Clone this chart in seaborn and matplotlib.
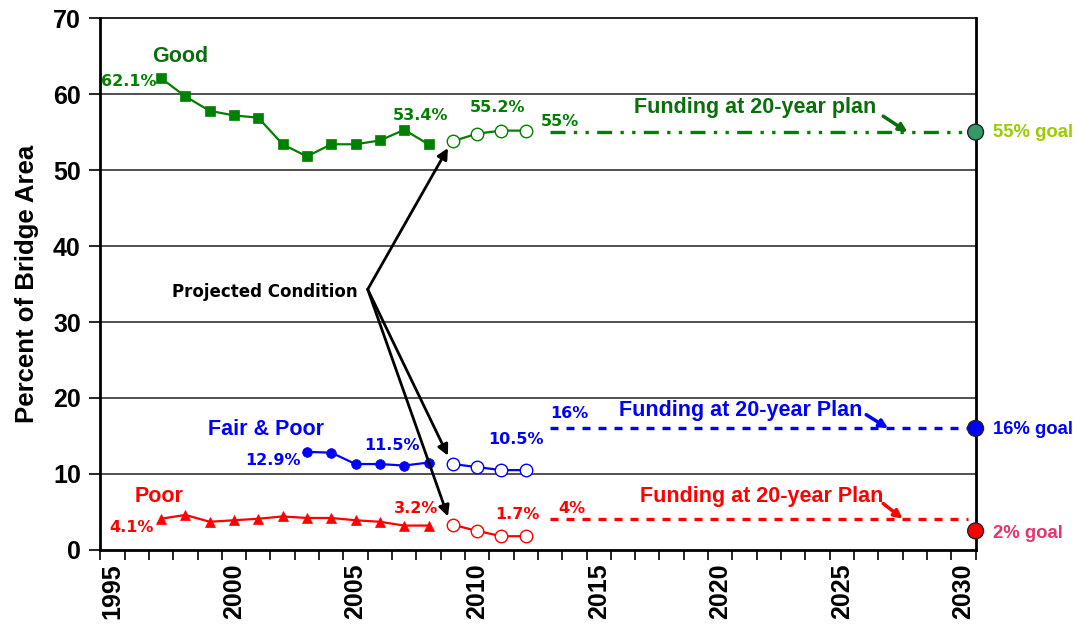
import numpy as np
import pandas as pd
import matplotlib
matplotlib.use("Agg")
import matplotlib.pyplot as plt
import seaborn as sns

# === Data ===
good_years = list(range(1997, 2009))
good_pct = [62.1, 59.7, 57.8, 57.2, 56.9, 53.4, 51.8, 53.4, 53.4, 53.9, 55.3, 53.4]
fair_years = list(range(2003, 2009))
fair_pct = [12.9, 12.8, 11.3, 11.3, 11.1, 11.5]
poor_years = list(range(1997, 2009))
poor_pct = [4.1, 4.6, 3.7, 3.9, 4.1, 4.4, 4.2, 4.2, 3.9, 3.7, 3.2, 3.2]

proj_years = [2009, 2010, 2011, 2012]
good_proj = [53.8, 54.8, 55.2, 55.2]
fair_proj = [11.3, 10.9, 10.5, 10.5]
poor_proj = [3.3, 2.5, 1.8, 1.8]

plan_years = [2013, 2030.2]
good_plan = [55, 55]
fair_plan = [16, 16]
poor_plan = [4, 4]

goal_year = 2030.5
goal_vals = [55, 16, 2.5]
goal_labels = ["55% goal", "16% goal", "2% goal"]

tick_years = [1995, 2000, 2005, 2010, 2015, 2020, 2025, 2030]

GREEN = "#008000"
DKGREEN = "#0a6e0a"
BLUE = "#0000ff"
RED = "#ff0000"

sns.set_style("white")
plt.rcParams["font.family"] = ["Liberation Sans", "DejaVu Sans"]

fig = plt.figure(figsize=(10.78, 6.27), dpi=100)
ax = fig.add_axes([0.093, 0.123, 0.812, 0.848])

# === Historical lines ===
sns.lineplot(x=good_years, y=good_pct, ax=ax, color=GREEN, lw=1.6, marker="s",
             markersize=6.5, markeredgecolor=GREEN, markeredgewidth=0.5)
sns.lineplot(x=fair_years, y=fair_pct, ax=ax, color=BLUE, lw=1.6, marker="o",
             markersize=7, markeredgecolor=BLUE, markeredgewidth=0.5)
sns.lineplot(x=poor_years, y=poor_pct, ax=ax, color=RED, lw=1.6, marker="^",
             markersize=7, markeredgecolor=RED, markeredgewidth=0.5)

# === Projected (hollow markers) ===
for vals, c in [(good_proj, GREEN), (fair_proj, BLUE), (poor_proj, RED)]:
    sns.lineplot(x=proj_years, y=vals, ax=ax, color=c, lw=1.6, marker="o",
                 markersize=9, markerfacecolor="white", markeredgecolor=c,
                 markeredgewidth=1.0)

# === 20-year plan lines ===
ax.plot(plan_years, good_plan, color=GREEN, lw=2.4, dashes=(4.5, 2.5, 1, 2.5, 1, 2.5))
ax.plot(plan_years, fair_plan, color=BLUE, lw=2.4, dashes=(2.4, 2.4))
ax.plot(plan_years, poor_plan, color=RED, lw=2.4, dashes=(2.4, 2.4))

# === Goal dots on the right edge ===
goal_df = pd.DataFrame({"year": [goal_year] * 3, "val": goal_vals,
                        "lab": goal_labels})
sns.scatterplot(data=goal_df, x="year", y="val", hue="lab",
                palette=["#339966", BLUE, RED], s=130, edgecolor="#222222",
                linewidth=1, legend=False, ax=ax, clip_on=False, zorder=5)

# === Axes ===
ax.set_xlim(1994.5, 2030.5)
ax.set_ylim(0, 70)
ax.set_yticks(range(0, 71, 10))
ax.set_xticks(tick_years)
ax.set_xticks(np.arange(1994.5, 2031, 1), minor=True)
ax.tick_params(axis="x", which="major", length=0, pad=10, labelcolor="black")
ax.tick_params(axis="x", which="minor", length=7, width=1.2, color="black",
               direction="out", bottom=True)
ax.tick_params(axis="y", length=8, width=1.2, color="black", direction="out",
               left=True, pad=6, labelcolor="black")
for lab in ax.get_xticklabels():
    lab.set_rotation(90)
    lab.set_fontsize(18)
    lab.set_fontweight("bold")
for lab in ax.get_yticklabels():
    lab.set_fontsize(18)
    lab.set_fontweight("bold")
ax.set_ylabel("Percent of Bridge Area", fontsize=18.5, fontweight="bold",
              labelpad=10, color="black")
ax.set_xlabel("")
for y in range(10, 70, 10):
    ax.axhline(y, color="#222222", lw=1.1, zorder=0)
for side in ["left", "bottom", "right"]:
    ax.spines[side].set_color("black")
    ax.spines[side].set_linewidth(2)
ax.spines["top"].set_color("black")
ax.spines["top"].set_linewidth(1.2)

# === Annotations ===
lbl = dict(fontsize=11.5, fontweight="bold", family=["DejaVu Sans"])
big = dict(fontsize=15.5, fontweight="bold", ha="center", va="center")
ax.text(1997.8, 64.9, "Good", color=DKGREEN, **big)
ax.text(1996.8, 61.6, "62.1%", color=GREEN, ha="right", va="center", **lbl)
ax.text(2007.67, 57.2, "53.4%", color=GREEN, ha="center", va="center", **lbl)
ax.text(2010.84, 58.2, "55.2%", color=GREEN, ha="center", va="center", **lbl)
ax.text(2013.4, 56.4, "55%", color=GREEN, ha="center", va="center", **lbl)
ax.text(2021.45, 58.2, "Funding at 20-year plan", color=DKGREEN, **big)

ax.text(2001.3, 15.8, "Fair & Poor", color=BLUE, **big)
ax.text(2001.6, 11.8, "12.9%", color=BLUE, ha="center", va="center", **lbl)
ax.text(2006.5, 13.8, "11.5%", color=BLUE, ha="center", va="center", **lbl)
ax.text(2011.6, 14.5, "10.5%", color=BLUE, ha="center", va="center", **lbl)
ax.text(2013.8, 18.0, "16%", color=BLUE, ha="center", va="center", **lbl)
ax.text(2020.84, 18.3, "Funding at 20-year Plan", color=BLUE, **big)

ax.text(1996.9, 7.0, "Poor", color=RED, **big)
ax.text(1995.8, 2.9, "4.1%", color=RED, ha="center", va="center", **lbl)
ax.text(2007.5, 5.5, "3.2%", color=RED, ha="center", va="center", **lbl)
ax.text(2011.66, 4.6, "1.7%", color=RED, ha="center", va="center", **lbl)
ax.text(2013.9, 5.5, "4%", color=RED, ha="center", va="center", **lbl)
ax.text(2021.7, 7.0, "Funding at 20-year Plan", color=RED, **big)

# goal labels outside the plot
for v, t, c in [(54.9, "55% goal", "#99cc00"), (15.8, "16% goal", BLUE), (2.2, "2% goal", "#e8336b")]:
    ax.text(2031.2, v, t, color=c, fontsize=13.3, fontweight="bold", ha="left",
            va="center", clip_on=False)

# small arrows pointing at the plan lines
for (x0, y0, x1, y1, c) in [(2026.7, 57.1, 2027.7, 55.0, DKGREEN),
                            (2026.0, 17.8, 2026.9, 16.0, BLUE),
                            (2026.7, 6.1, 2027.5, 4.1, RED)]:
    ax.annotate("", xy=(x1, y1), xytext=(x0, y0),
                arrowprops=dict(arrowstyle="-|>", color=c, lw=2.5, mutation_scale=12,
                                shrinkA=0, shrinkB=0))

# Projected condition arrows
ax.text(2005.1, 34.0, "Projected Condition", color="black", fontsize=12,
        fontweight="bold", family=["DejaVu Sans"], ha="right", va="center")
for tip in [(2008.8, 52.9), (2008.8, 12.4), (2008.8, 4.4)]:
    ax.annotate("", xy=tip, xytext=(2005.5, 34.3),
                arrowprops=dict(arrowstyle="-|>", color="black", lw=2, mutation_scale=16,
                                shrinkA=0, shrinkB=0))

fig.savefig("out.png", dpi=100)
